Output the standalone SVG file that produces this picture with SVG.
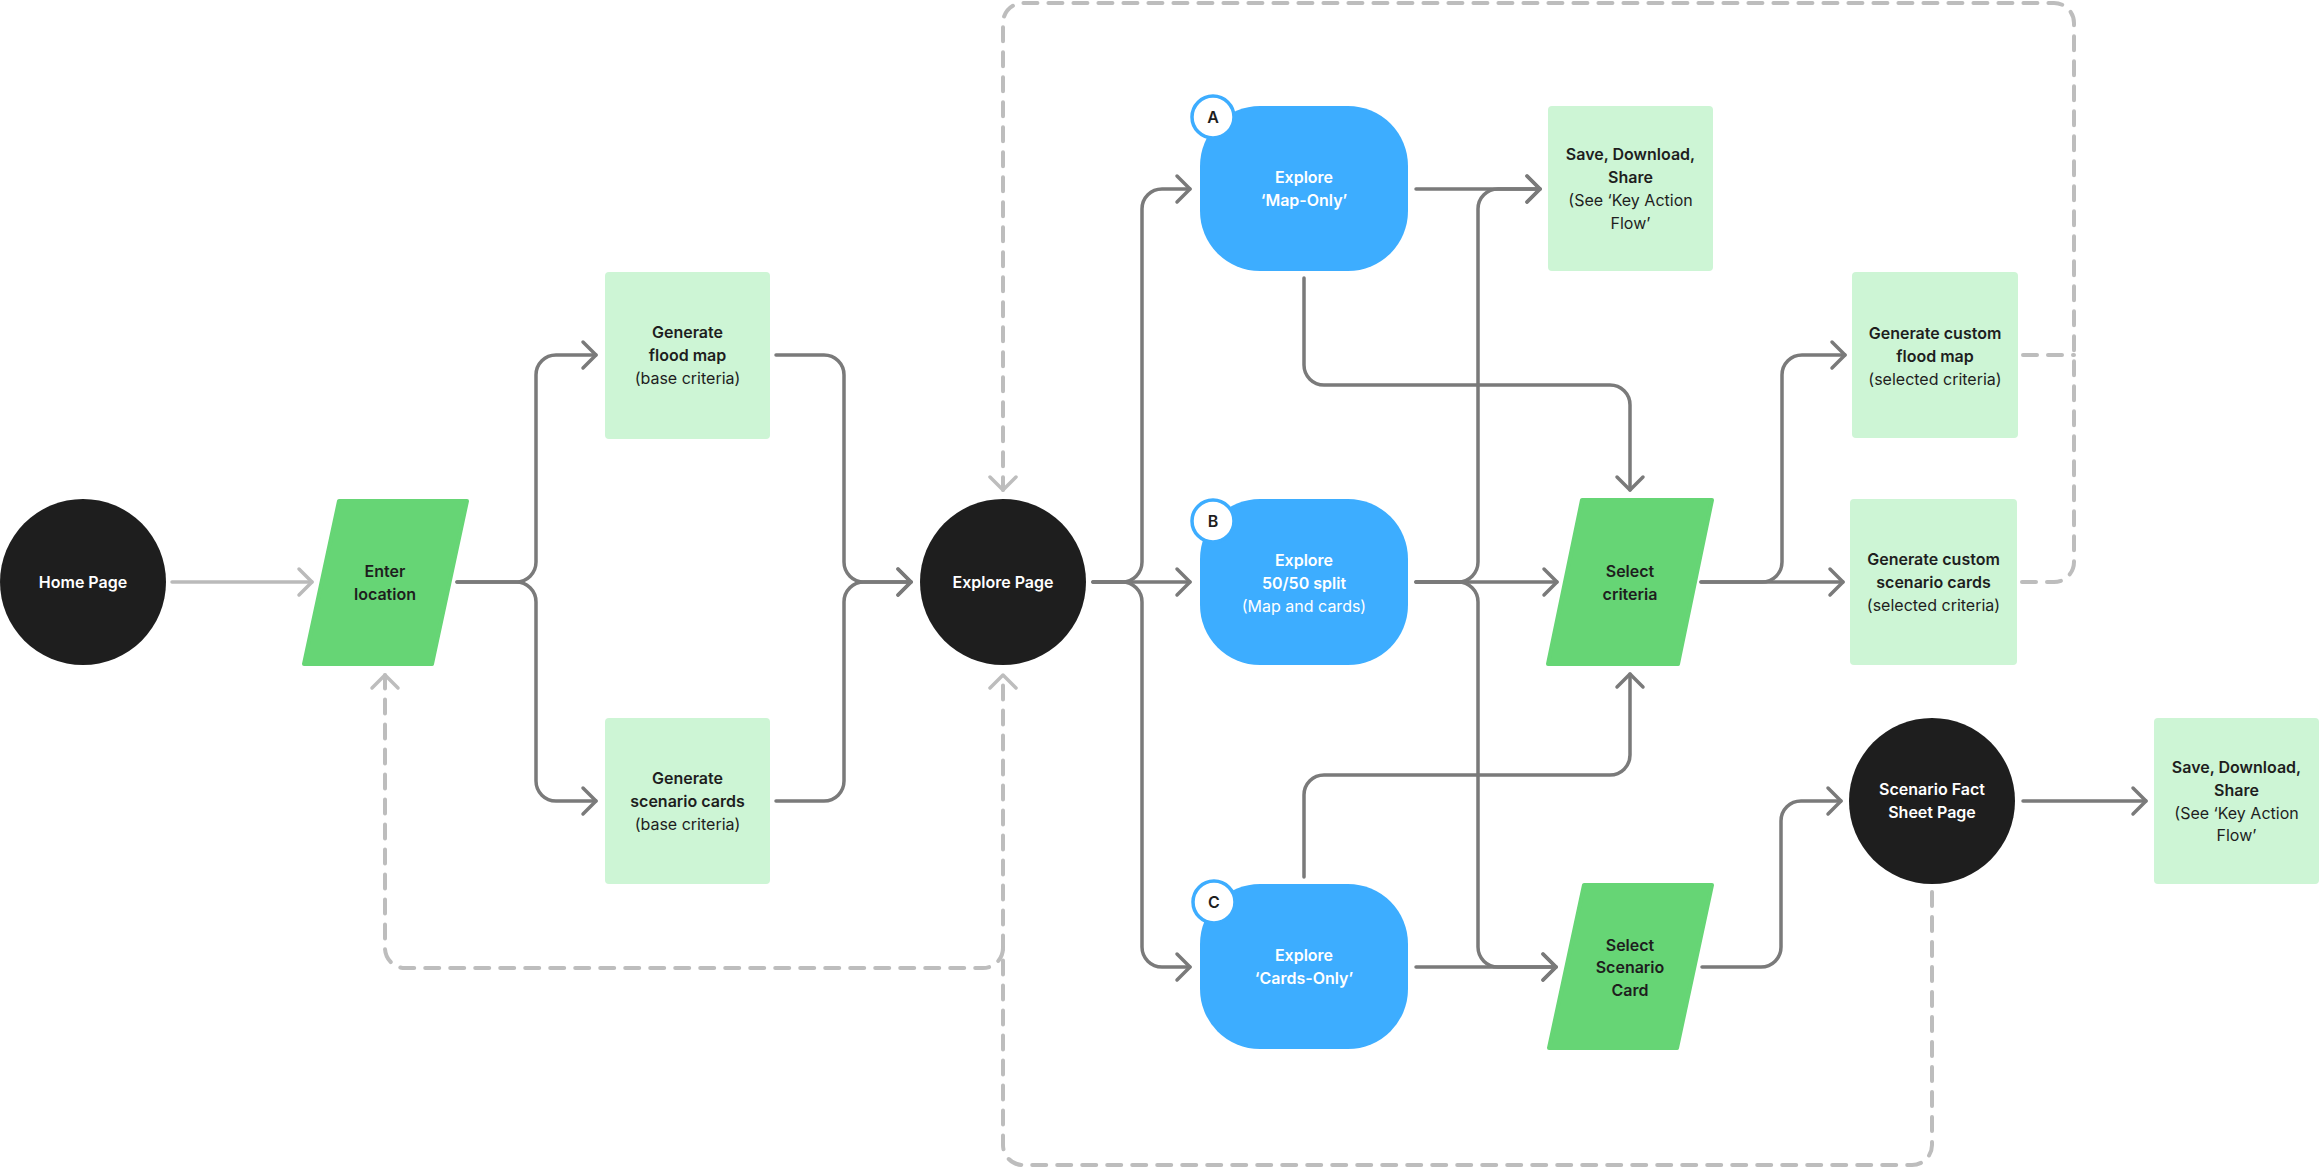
<svg xmlns="http://www.w3.org/2000/svg" width="2320" height="1168" viewBox="0 0 2320 1168">
<style>
text{font-family:Inter,"Liberation Sans",Arial,sans-serif;font-size:16px;text-anchor:middle}
.b{font-weight:600}
.w{fill:#ffffff}
.k{fill:#1e1e1e}
.dark{fill:#1e1e1e}
.blue{fill:#3dadff}
.green{fill:#66d575;stroke:#66d575;stroke-width:4;stroke-linejoin:round}
.lg{fill:#cdf5d5}
.badge{fill:#ffffff;stroke:#3dadff;stroke-width:3.5}
.c{fill:none;stroke:#7a7a7a;stroke-width:3.5;stroke-linecap:round;stroke-linejoin:round}
.cl{fill:none;stroke:#bababa;stroke-width:3.5;stroke-linecap:round}
.d{fill:none;stroke:#bdbdbd;stroke-width:4;stroke-linecap:round;stroke-dasharray:14 11}
</style>
<defs>
<marker id="ah" markerUnits="userSpaceOnUse" viewBox="-20 -16 24 32" refX="0" refY="0" markerWidth="24" markerHeight="32" orient="auto">
<path d="M-13,-13 L0,0 L-13,13" fill="none" stroke="#7a7a7a" stroke-width="3.5" stroke-linecap="round" stroke-linejoin="round"/>
</marker>
<marker id="ahl" markerUnits="userSpaceOnUse" viewBox="-20 -16 24 32" refX="0" refY="0" markerWidth="24" markerHeight="32" orient="auto">
<path d="M-13,-13 L0,0 L-13,13" fill="none" stroke="#bababa" stroke-width="3.5" stroke-linecap="round" stroke-linejoin="round"/>
</marker>
<marker id="ahd" markerUnits="userSpaceOnUse" viewBox="-20 -16 24 32" refX="0" refY="0" markerWidth="24" markerHeight="32" orient="auto">
<path d="M-13,-13 L0,0 L-13,13" fill="none" stroke="#bdbdbd" stroke-width="3.5" stroke-linecap="round" stroke-linejoin="round"/>
</marker>
</defs>
<rect width="2320" height="1168" fill="#ffffff"/>

<g id="connectors">
<path class="cl" d="M172 582 H312" marker-end="url(#ahl)"/>
<path class="c" d="M457 582 H516 A20 20 0 0 0 536 562 V375 A20 20 0 0 1 556 355 H596" marker-end="url(#ah)"/>
<path class="c" d="M457 582 H516 A20 20 0 0 1 536 602 V781 A20 20 0 0 0 556 801 H596" marker-end="url(#ah)"/>
<path class="c" d="M776 355 H824 A20 20 0 0 1 844 375 V562 A20 20 0 0 0 864 582 H911" marker-end="url(#ah)"/>
<path class="c" d="M776 801 H824 A20 20 0 0 0 844 781 V602 A20 20 0 0 1 864 582 H911" marker-end="url(#ah)"/>
<path class="c" d="M1093 582 H1122 A20 20 0 0 0 1142 562 V209 A20 20 0 0 1 1162 189 H1190" marker-end="url(#ah)"/>
<path class="c" d="M1093 582 H1190" marker-end="url(#ah)"/>
<path class="c" d="M1093 582 H1122 A20 20 0 0 1 1142 602 V947 A20 20 0 0 0 1162 967 H1190" marker-end="url(#ah)"/>
<path class="c" d="M1416 189 H1540" marker-end="url(#ah)"/>
<path class="c" d="M1416 582 H1458 A20 20 0 0 0 1478 562 V209 A20 20 0 0 1 1498 189 H1540" marker-end="url(#ah)"/>
<path class="c" d="M1416 582 H1557" marker-end="url(#ah)"/>
<path class="c" d="M1416 582 H1458 A20 20 0 0 1 1478 602 V947 A20 20 0 0 0 1498 967 H1556" marker-end="url(#ah)"/>
<path class="c" d="M1416 967 H1556" marker-end="url(#ah)"/>
<path class="c" d="M1304 278 V365 A20 20 0 0 0 1324 385 H1610 A20 20 0 0 1 1630 405 V490" marker-end="url(#ah)"/>
<path class="c" d="M1304 877 V795 A20 20 0 0 1 1324 775 H1610 A20 20 0 0 0 1630 755 V674" marker-end="url(#ah)"/>
<path class="c" d="M1701 582 H1843" marker-end="url(#ah)"/>
<path class="c" d="M1701 582 H1762 A20 20 0 0 0 1782 562 V375 A20 20 0 0 1 1802 355 H1845" marker-end="url(#ah)"/>
<path class="c" d="M1702 967 H1761 A20 20 0 0 0 1781 947 V821 A20 20 0 0 1 1801 801 H1841" marker-end="url(#ah)"/>
<path class="c" d="M2023 801 H2146" marker-end="url(#ah)"/>
<path class="d" d="M2023 355 H2074"/>
<path class="d" d="M2022 582 H2054 A20 20 0 0 0 2074 562 V23 A20 20 0 0 0 2054 3 H1023 A20 20 0 0 0 1003 23 V490" marker-end="url(#ahd)"/>
<path class="d" d="M1932 892 V1145 A20 20 0 0 1 1912 1165 H1023 A20 20 0 0 1 1003 1145 V675" marker-end="url(#ahd)"/>
<path class="d" d="M1003 948 A20 20 0 0 1 983 968 H405 A20 20 0 0 1 385 948 V675" marker-end="url(#ahd)"/>
</g>

<g id="home-page">
<circle class="dark" cx="83" cy="582" r="83"/>
<text class="b w" x="83" y="588">Home Page</text>
</g>

<g id="enter-location">
<polygon class="green" points="339,501 467,501 432,664 304,664"/>
<text class="b k" x="385" y="577">Enter</text>
<text class="b k" x="385" y="600">location</text>
</g>

<g id="generate-flood-map">
<rect class="lg" x="605" y="272" width="165" height="167" rx="4"/>
<text class="b k" x="687.5" y="338">Generate</text>
<text class="b k" x="687.5" y="361">flood map</text>
<text class="k" x="687.5" y="384">(base criteria)</text>
</g>

<g id="generate-scenario-cards">
<rect class="lg" x="605" y="718" width="165" height="166" rx="4"/>
<text class="b k" x="687.5" y="784">Generate</text>
<text class="b k" x="687.5" y="807">scenario cards</text>
<text class="k" x="687.5" y="830">(base criteria)</text>
</g>

<g id="explore-page">
<circle class="dark" cx="1003" cy="582" r="83"/>
<text class="b w" x="1003" y="588">Explore Page</text>
</g>

<g id="explore-map-only">
<rect class="blue" x="1200" y="106" width="208" height="165" rx="60"/>
<circle class="badge" cx="1213" cy="117" r="21"/>
<text class="b k" x="1213" y="123">A</text>
<text class="b w" x="1304" y="183">Explore</text>
<text class="b w" x="1304" y="206">‘Map-Only’</text>
</g>

<g id="explore-split">
<rect class="blue" x="1200" y="499" width="208" height="166" rx="60"/>
<circle class="badge" cx="1213" cy="521" r="21"/>
<text class="b k" x="1213" y="527">B</text>
<text class="b w" x="1304" y="565.5">Explore</text>
<text class="b w" x="1304" y="588.5">50/50 split</text>
<text class="w" x="1304" y="611.5">(Map and cards)</text>
</g>

<g id="explore-cards-only">
<rect class="blue" x="1200" y="884" width="208" height="165" rx="60"/>
<circle class="badge" cx="1214" cy="902" r="21"/>
<text class="b k" x="1214" y="908">C</text>
<text class="b w" x="1304" y="961">Explore</text>
<text class="b w" x="1304" y="984">‘Cards-Only’</text>
</g>

<g id="save-download-share-1">
<rect class="lg" x="1548" y="106" width="165" height="165" rx="4"/>
<text class="b k" x="1630.5" y="160">Save, Download,</text>
<text class="b k" x="1630.5" y="183">Share</text>
<text class="k" x="1630.5" y="206">(See ‘Key Action</text>
<text class="k" x="1630.5" y="229">Flow’</text>
</g>

<g id="select-criteria">
<polygon class="green" points="1582,500 1712,500 1678,664 1548,664"/>
<text class="b k" x="1630" y="577">Select</text>
<text class="b k" x="1630" y="600">criteria</text>
</g>

<g id="generate-custom-flood-map">
<rect class="lg" x="1852" y="272" width="166" height="166" rx="4"/>
<text class="b k" x="1935" y="338.5">Generate custom</text>
<text class="b k" x="1935" y="361.5">flood map</text>
<text class="k" x="1935" y="384.5">(selected criteria)</text>
</g>

<g id="generate-custom-scenario-cards">
<rect class="lg" x="1850" y="499" width="167" height="166" rx="4"/>
<text class="b k" x="1933.5" y="565">Generate custom</text>
<text class="b k" x="1933.5" y="588">scenario cards</text>
<text class="k" x="1933.5" y="611">(selected criteria)</text>
</g>

<g id="select-scenario-card">
<polygon class="green" points="1584,885 1712,885 1677,1048 1549,1048"/>
<text class="b k" x="1630" y="950.5">Select</text>
<text class="b k" x="1630" y="973">Scenario</text>
<text class="b k" x="1630" y="996">Card</text>
</g>

<g id="scenario-fact-sheet-page">
<circle class="dark" cx="1932" cy="801" r="83"/>
<text class="b w" x="1932" y="795">Scenario Fact</text>
<text class="b w" x="1932" y="818">Sheet Page</text>
</g>

<g id="save-download-share-2">
<rect class="lg" x="2154" y="718" width="165" height="166" rx="4"/>
<text class="b k" x="2236.5" y="773">Save, Download,</text>
<text class="b k" x="2236.5" y="796">Share</text>
<text class="k" x="2236.5" y="818.5">(See ‘Key Action</text>
<text class="k" x="2236.5" y="841">Flow’</text>
</g>
</svg>
